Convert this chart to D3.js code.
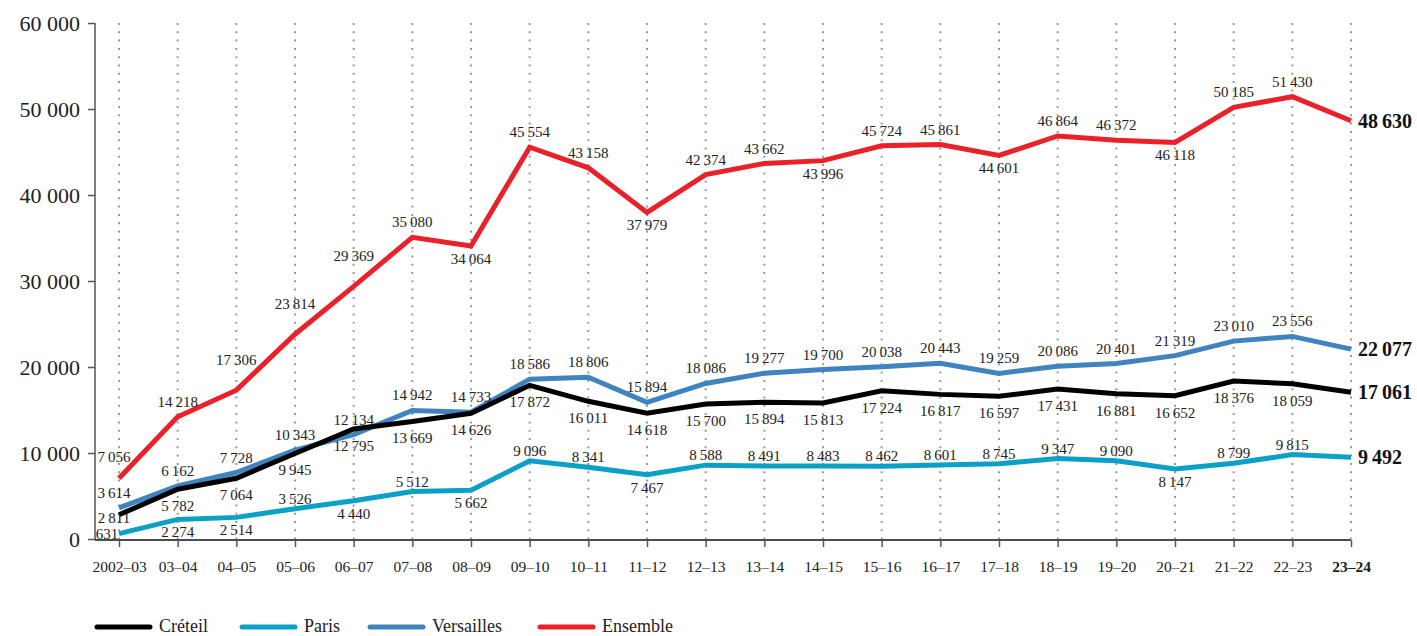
<!DOCTYPE html>
<html>
<head>
<meta charset="utf-8">
<script src="https://cdn.jsdelivr.net/npm/d3@7"></script>
<style>
  body { margin: 0; background: #fff; }
  text { font-family: "Liberation Serif", "DejaVu Serif", serif; }
</style>
</head>
<body>
<div id="chart"></div>
<script>
var years = ["2002–03", "03–04", "04–05", "05–06", "06–07", "07–08", "08–09", "09–10", "10–11", "11–12",
  "12–13", "13–14", "14–15", "15–16", "16–17", "17–18", "18–19", "19–20", "20–21", "21–22", "22–23", "23–24"];

var creteil = [2811, 5782, 7064, 9945, 12795, 13669, 14626, 17872, 16011, 14618, 15700,
  15894, 15813, 17224, 16817, 16597, 17431, 16881, 16652, 18376, 18059, 17061];
var paris = [631, 2274, 2514, 3526, 4440, 5512, 5662, 9096, 8341, 7467, 8588,
  8491, 8483, 8462, 8601, 8745, 9347, 9090, 8147, 8799, 9815, 9492];
var versailles = [3614, 6162, 7728, 10343, 12134, 14942, 14733, 18586, 18806, 15894, 18086,
  19277, 19700, 20038, 20443, 19259, 20086, 20401, 21319, 23010, 23556, 22077];
var ensemble = [7056, 14218, 17306, 23814, 29369, 35080, 34064, 45554, 43158, 37979, 42374,
  43662, 43996, 45724, 45861, 44601, 46864, 46372, 46118, 50185, 51430, 48630];

var yTicks = [0, 10000, 20000, 30000, 40000, 50000, 60000];

var width = 1417, height = 636;

// label side per series, with the points whose label sits on the other side
var series = [
  { name: "Créteil", values: creteil, color: "#000000", pos: "below", flip: [], up: -10, down: 22 },
  { name: "Paris", values: paris, color: "#0ba1c6", pos: "above", flip: [1, 2, 4, 6, 9, 18], up: -5, down: 18 },
  { name: "Versailles", values: versailles, color: "#3f83bf", pos: "above", flip: [], up: -10, down: 20 },
  { name: "Ensemble", values: ensemble, color: "#ea2129", pos: "above", flip: [6, 9, 12, 15, 18], up: -10, down: 18 }
];

var fmt = d3.formatLocale({ decimal: ",", thousands: "\u2009", grouping: [3], currency: ["", " €"] }).format(",d");
var fmtTick = d3.formatLocale({ decimal: ",", thousands: " ", grouping: [3], currency: ["", " €"] }).format(",d");

var svg = d3.select("#chart")
  .append("svg")
  .attr("width", width)
  .attr("height", height);

var xScale = d3.scalePoint()
  .domain(years)
  .range([119, 1351]);

var yScale = d3.scaleLinear()
  .domain([0, 60000])
  .range([539, 23]);

// dotted verticals
svg.append("g")
  .selectAll("line")
  .data(years)
  .enter()
  .append("line")
  .attr("x1", function (d) { return xScale(d); })
  .attr("x2", function (d) { return xScale(d); })
  .attr("y1", yScale(60000))
  .attr("y2", yScale(0))
  .attr("stroke", "#9a9a9a")
  .attr("stroke-width", 2)
  .attr("stroke-dasharray", "2,6.3");

// y axis
var yAxis = svg.append("g")
  .attr("transform", "translate(95,0)")
  .call(d3.axisLeft(yScale).tickValues(yTicks).tickSize(7).tickPadding(8).tickFormat(fmtTick));
yAxis.select(".domain").attr("stroke", "#555").attr("stroke-width", 1.5).attr("d", "M0," + yScale(60000) + "V" + (yScale(0) + 1));
yAxis.selectAll(".tick line").attr("stroke", "#555").attr("stroke-width", 1.5);
yAxis.selectAll(".tick text")
  .attr("font-size", 22)
  .attr("fill", "#222")
  .style("font-family", "'Liberation Serif', serif");

// x axis
var xAxis = svg.append("g")
  .attr("transform", "translate(0," + (yScale(0) + 1) + ")")
  .call(d3.axisBottom(xScale).tickSize(7).tickPadding(14));
xAxis.select(".domain").attr("stroke", "#111").attr("stroke-width", 1.5).attr("d", "M95,0H1351");
xAxis.selectAll(".tick line").attr("stroke", "#555").attr("stroke-width", 1.5);
xAxis.selectAll(".tick text")
  .attr("font-size", 15.5)
  .attr("fill", "#222")
  .attr("font-weight", function (d, i) { return i == years.length - 1 ? "bold" : "normal"; })
  .style("font-family", "'Liberation Serif', serif");

var line = d3.line()
  .x(function (d, i) { return xScale(years[i]); })
  .y(function (d) { return yScale(d); });

// draw order: Paris, Versailles, Créteil, Ensemble
[series[1], series[2], series[0], series[3]].forEach(function (s) {
  svg.append("path")
    .datum(s.values)
    .attr("d", line)
    .attr("fill", "none")
    .attr("stroke", s.color)
    .attr("stroke-width", 5)
    .attr("stroke-linejoin", "miter");
});

function labelY(s, d, i) {
  var p = s.pos;
  if (s.flip.indexOf(i) >= 0) p = (p == "above") ? "below" : "above";
  // crowded first column
  if (i == 0 && s.name == "Créteil") return yScale(d) + 8;
  if (i == 0 && s.name == "Paris") return yScale(d) + 5;
  if (p == "below") return yScale(d) + s.down;
  // lift labels off steep rising segments
  var next = s.values[i + 1];
  if (next - d > 5000) return yScale(d) + (i == 0 ? -16 : -25);
  return yScale(d) + s.up;
}

function labelX(s, i) {
  if (i > 0) return xScale(years[i]);
  return xScale(years[i]) - (s.name == "Paris" ? 12 : 5);
}

// value labels
series.forEach(function (s) {
  var last = s.values.length - 1;
  svg.append("g")
    .selectAll("text")
    .data(s.values.slice(0, last))
    .enter()
    .append("text")
    .attr("x", function (d, i) { return labelX(s, i); })
    .attr("y", function (d, i) { return labelY(s, d, i); })
    .attr("text-anchor", "middle")
    .attr("font-size", 15)
    .attr("fill", "#222")
    .text(function (d) { return fmt(d); });

  svg.append("text")
    .attr("x", xScale(years[last]) + 7)
    .attr("y", yScale(s.values[last]) + 7)
    .attr("font-size", 20)
    .attr("font-weight", "bold")
    .attr("fill", "#111")
    .text(fmt(s.values[last]));
});

// legend
var legendX = [95, 240, 368, 538];
var legend = svg.append("g")
  .selectAll("g")
  .data(series)
  .enter()
  .append("g")
  .attr("transform", function (d, i) { return "translate(" + legendX[i] + ",627)"; });

legend.append("line")
  .attr("x1", 2).attr("x2", 55)
  .attr("stroke", function (d) { return d.color; })
  .attr("stroke-width", 5)
  .attr("stroke-linecap", "round");

legend.append("text")
  .attr("x", 64)
  .attr("y", 5)
  .attr("font-size", 18)
  .attr("fill", "#222")
  .text(function (d) { return d.name; });
</script>
</body>
</html>
